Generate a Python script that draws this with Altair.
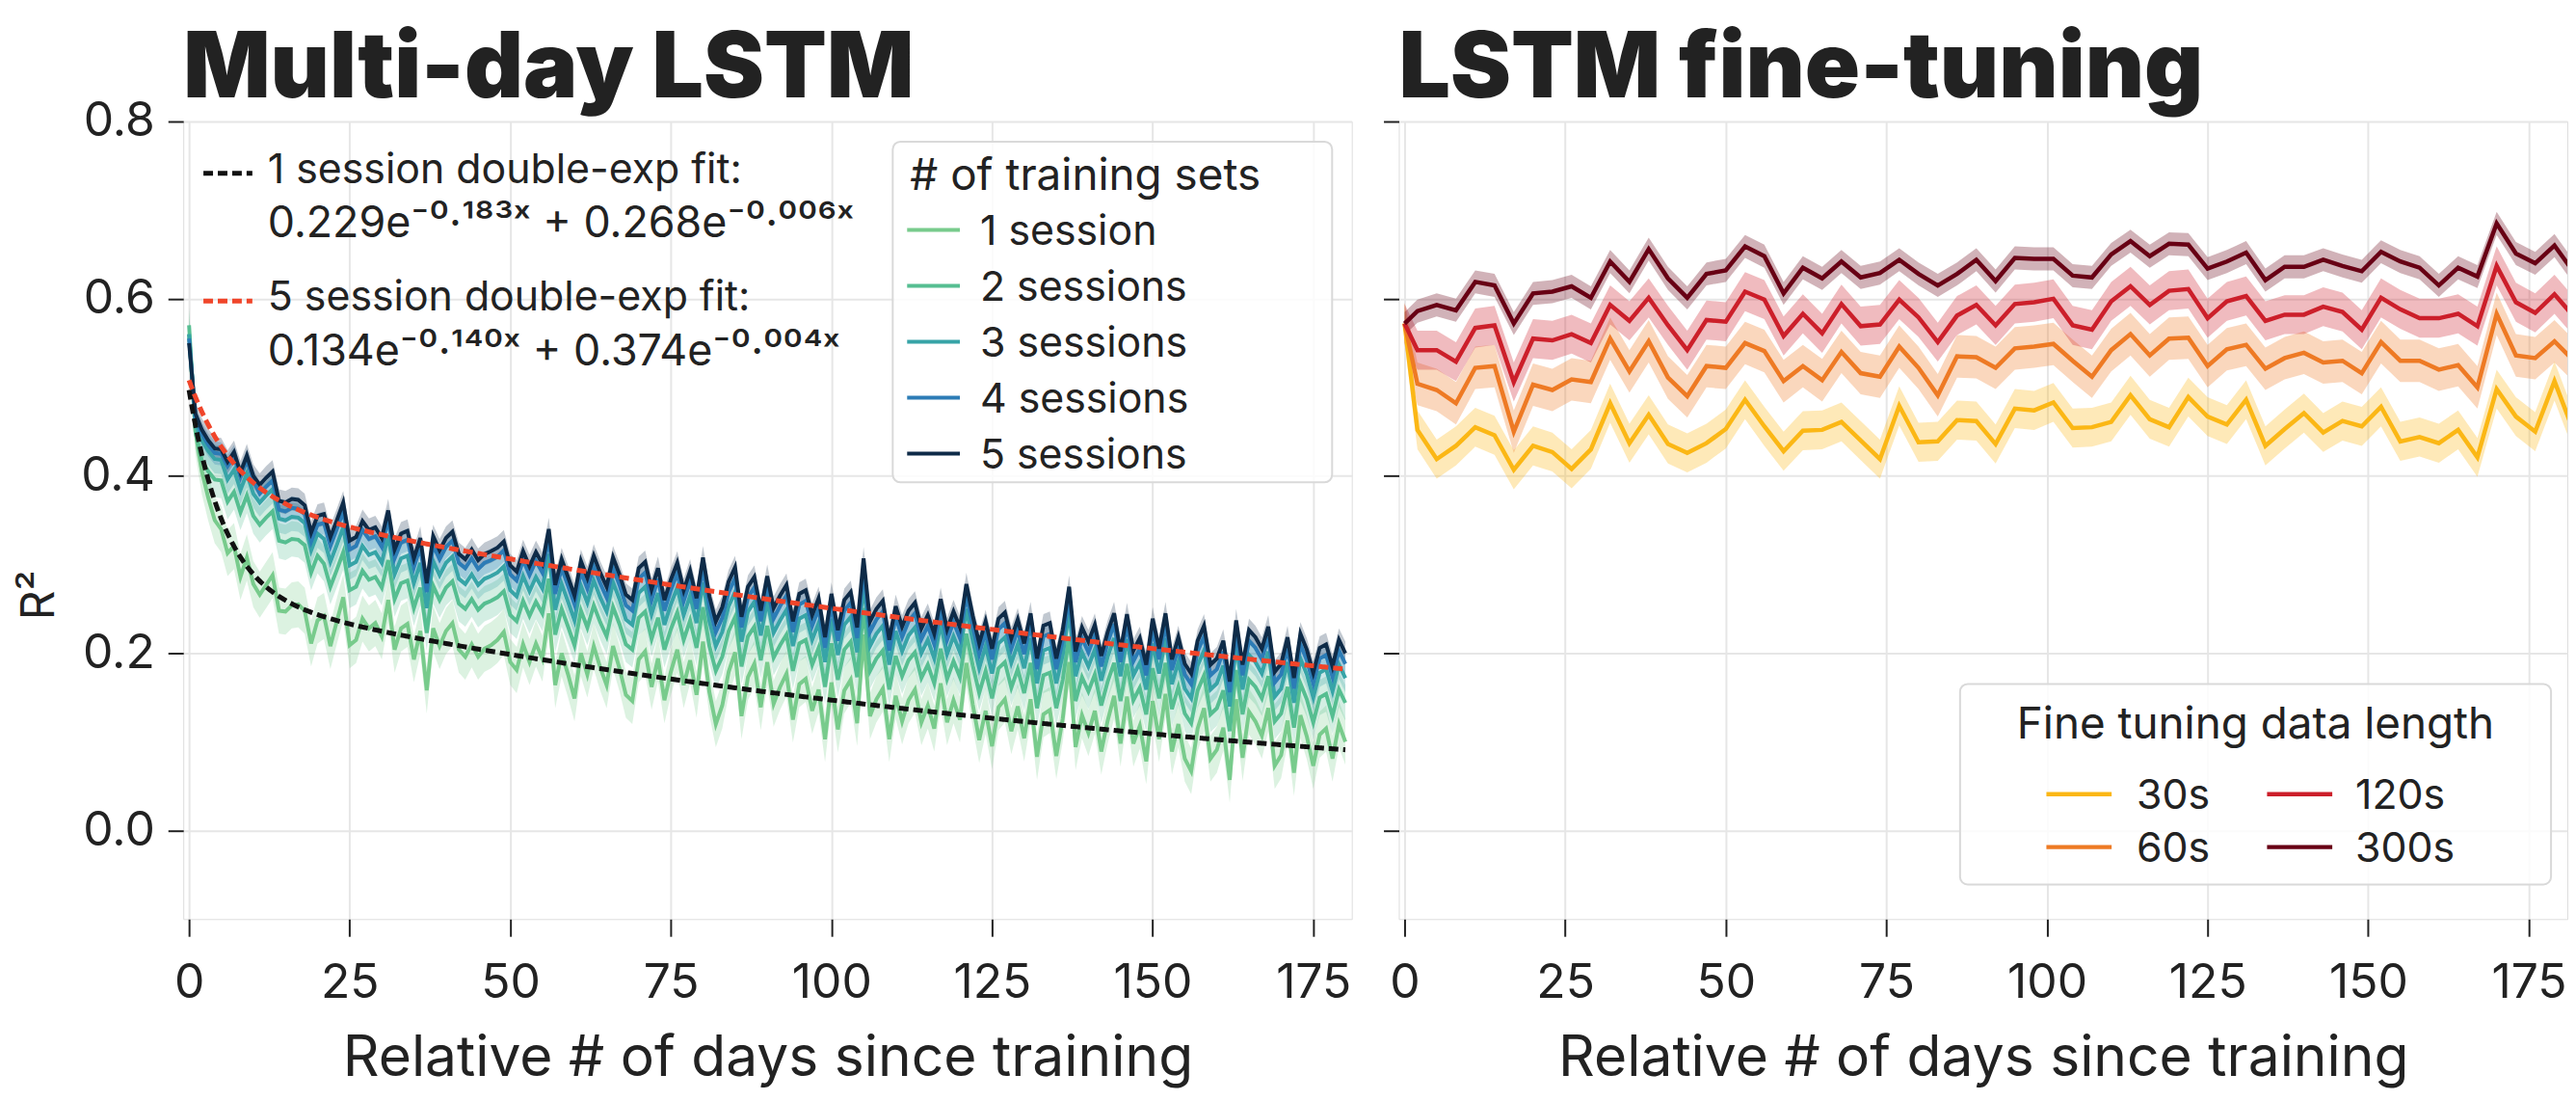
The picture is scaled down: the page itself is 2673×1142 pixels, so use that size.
import altair as alt
import pandas as pd

FONT = "Inter"
INK = "#222222"
GRID = "#e6e6e6"

# ---------------- left panel data: daily R^2 by number of training sessions ----------------
left_days = list(range(0, 181))
left_series = ["1 session", "2 sessions", "3 sessions", "4 sessions", "5 sessions"]
left_colors = ["#78cb8c", "#56be91", "#37a4a7", "#2c7cb6", "#0e2b48"]
left_s1 = [.560,.450,.405,.375,.350,.340,.313,.321,.286,.308,
           .278,.266,.277,.288,.248,.247,.254,.255,.248,.211,
           .237,.242,.208,.236,.263,.209,.215,.239,.228,.234,
           .219,.260,.204,.228,.233,.193,.225,.158,.228,.208,
           .225,.234,.204,.196,.210,.196,.205,.209,.215,.224,
           .190,.181,.210,.190,.211,.194,.245,.164,.200,.176,
           .149,.200,.176,.208,.184,.164,.208,.183,.153,.146,
           .193,.202,.162,.194,.147,.179,.204,.164,.192,.153,
           .213,.156,.120,.141,.179,.201,.129,.173,.188,.139,
           .190,.143,.162,.177,.125,.165,.171,.135,.159,.103,
           .167,.114,.158,.170,.121,.221,.129,.148,.160,.103,
           .152,.123,.147,.159,.122,.141,.115,.166,.122,.147,
           .125,.189,.142,.102,.135,.095,.139,.148,.112,.140,
           .104,.148,.083,.131,.136,.084,.126,.190,.094,.130,
           .110,.135,.089,.124,.152,.098,.151,.098,.118,.078,
           .146,.103,.154,.089,.120,.081,.067,.115,.138,.081,
           .091,.116,.057,.148,.082,.134,.123,.107,.138,.073,
           .085,.124,.065,.130,.106,.073,.108,.115,.081,.120,
           .100]
left_s2 = [.570,.450,.417,.405,.396,.395,.371,.382,.359,.378,
           .355,.345,.353,.360,.327,.325,.329,.328,.322,.291,
           .310,.301,.275,.294,.314,.271,.275,.293,.283,.286,
           .274,.305,.261,.279,.282,.251,.274,.223,.276,.260,
           .274,.281,.256,.250,.261,.249,.256,.259,.263,.270,
           .243,.236,.259,.242,.258,.245,.284,.221,.250,.230,
           .209,.248,.229,.254,.235,.219,.252,.233,.210,.204,
           .240,.247,.216,.240,.204,.227,.246,.215,.237,.206,
           .252,.208,.180,.196,.225,.241,.185,.219,.230,.192,
           .231,.195,.209,.221,.180,.211,.215,.187,.206,.162,
           .211,.170,.204,.213,.173,.251,.180,.194,.203,.159,
           .197,.174,.192,.201,.172,.187,.166,.205,.171,.191,
           .173,.222,.186,.155,.180,.149,.183,.190,.161,.182,
           .155,.189,.138,.175,.178,.138,.170,.219,.146,.173,
           .157,.176,.141,.168,.189,.146,.188,.147,.161,.131,
           .183,.149,.189,.137,.162,.132,.121,.158,.175,.131,
           .138,.158,.112,.181,.131,.170,.162,.149,.174,.123,
           .132,.162,.116,.166,.148,.122,.150,.154,.129,.159,
           .144]
left_s3 = [.560,.458,.440,.428,.419,.418,.396,.407,.384,.403,
           .380,.370,.378,.385,.352,.350,.354,.353,.347,.316,
           .335,.329,.303,.322,.342,.299,.303,.321,.311,.314,
           .302,.333,.289,.307,.310,.279,.302,.251,.304,.288,
           .302,.309,.284,.278,.289,.277,.284,.287,.291,.298,
           .271,.264,.287,.270,.286,.273,.312,.249,.278,.258,
           .237,.276,.257,.282,.263,.247,.280,.261,.238,.232,
           .268,.275,.244,.268,.232,.255,.274,.243,.265,.234,
           .280,.236,.208,.224,.253,.269,.213,.247,.258,.220,
           .259,.223,.237,.249,.208,.239,.243,.215,.234,.190,
           .239,.198,.232,.241,.201,.279,.208,.222,.231,.187,
           .225,.202,.220,.229,.200,.215,.194,.233,.199,.219,
           .201,.250,.214,.183,.208,.177,.211,.218,.189,.210,
           .183,.217,.166,.203,.206,.166,.198,.247,.174,.201,
           .185,.204,.169,.196,.217,.174,.216,.175,.189,.159,
           .211,.177,.217,.165,.190,.160,.149,.186,.203,.159,
           .166,.186,.140,.209,.159,.198,.190,.177,.202,.151,
           .160,.190,.144,.194,.176,.150,.178,.182,.157,.187,
           .172]
left_s4 = [.555,.465,.447,.435,.426,.425,.411,.422,.399,.418,
           .395,.380,.388,.395,.362,.360,.364,.363,.357,.326,
           .345,.347,.321,.340,.360,.317,.321,.339,.329,.332,
           .320,.351,.307,.325,.328,.297,.320,.269,.322,.306,
           .320,.327,.302,.296,.307,.295,.302,.305,.309,.316,
           .289,.282,.305,.288,.304,.291,.330,.267,.296,.276,
           .255,.292,.273,.298,.279,.263,.296,.277,.254,.248,
           .284,.291,.260,.284,.248,.271,.290,.259,.281,.250,
           .296,.252,.224,.240,.269,.285,.229,.263,.274,.236,
           .275,.239,.253,.265,.224,.255,.259,.231,.250,.206,
           .255,.214,.248,.257,.217,.295,.224,.238,.247,.203,
           .241,.218,.236,.245,.216,.231,.210,.249,.215,.235,
           .217,.266,.230,.199,.224,.193,.227,.234,.205,.226,
           .199,.233,.182,.219,.222,.182,.214,.263,.190,.217,
           .201,.220,.185,.212,.233,.190,.232,.191,.205,.175,
           .227,.193,.233,.181,.206,.176,.165,.202,.219,.175,
           .182,.202,.156,.225,.175,.214,.206,.193,.218,.167,
           .176,.206,.160,.210,.192,.166,.194,.198,.173,.203,
           .188]
left_s5 = [.550,.470,.452,.440,.431,.430,.416,.427,.404,.423,
           .400,.390,.398,.405,.372,.370,.374,.373,.367,.336,
           .355,.357,.331,.350,.370,.327,.331,.349,.339,.342,
           .330,.361,.317,.335,.338,.307,.330,.279,.332,.316,
           .330,.337,.312,.306,.317,.305,.312,.315,.319,.326,
           .299,.292,.315,.298,.314,.301,.340,.277,.306,.286,
           .265,.304,.285,.310,.291,.275,.308,.289,.266,.260,
           .296,.303,.272,.296,.260,.283,.302,.271,.293,.262,
           .308,.264,.236,.252,.281,.297,.241,.275,.286,.248,
           .287,.251,.265,.277,.236,.267,.271,.243,.262,.218,
           .267,.226,.260,.269,.229,.307,.236,.250,.259,.215,
           .253,.230,.248,.257,.228,.243,.222,.261,.227,.247,
           .229,.278,.242,.211,.236,.205,.239,.246,.217,.238,
           .211,.245,.194,.231,.234,.194,.226,.275,.202,.229,
           .213,.232,.197,.224,.245,.202,.244,.203,.217,.187,
           .239,.205,.245,.193,.218,.188,.177,.214,.231,.187,
           .194,.214,.168,.237,.187,.226,.218,.205,.230,.179,
           .188,.218,.172,.222,.204,.178,.206,.210,.185,.215,
           .200]
left_hw = [0.026, 0.020, 0.016, 0.013, 0.013]
left_legend_title = "# of training sets"

# double-exponential fits: a*exp(-k1*x) + b*exp(-k2*x)
fit_names = ["1 session double-exp fit:", "5 session double-exp fit:"]
fit_colors = ["#111111", "#f0452a"]
fit_a = [0.229, 0.134]
fit_k1 = [0.183, 0.140]
fit_b = [0.268, 0.374]
fit_k2 = [0.006, 0.004]

# ---------------- right panel data (fine-tuning) ----------------
right_days = [0] + list(range(2, 183, 3))
right_series = ["30s", "60s", "120s", "300s"]
right_colors = ["#fbb715", "#ee7a24", "#cc1f2a", "#680014"]
right_30 = [0.572,0.452,0.419,0.434,0.455,0.446,0.407,0.434,0.427,0.408,0.430,0.482,0.437,0.469,0.436,0.426,0.437,0.453,0.486,0.456,0.428,
            0.451,0.452,0.461,0.440,0.419,0.479,0.438,0.439,0.463,0.462,0.436,0.476,0.474,0.483,0.454,0.455,0.461,0.491,0.464,0.455,
            0.489,0.467,0.458,0.486,0.434,0.453,0.471,0.449,0.462,0.456,0.478,0.439,0.444,0.437,0.452,0.421,0.498,0.467,0.450,0.507,0.450]
right_60 = [0.572,0.504,0.497,0.482,0.522,0.524,0.450,0.503,0.497,0.509,0.506,0.555,0.518,0.552,0.511,0.490,0.524,0.522,0.550,0.541,0.507,
            0.524,0.508,0.540,0.516,0.512,0.546,0.522,0.491,0.535,0.534,0.522,0.544,0.546,0.549,0.530,0.512,0.542,0.560,0.536,0.555,
            0.556,0.524,0.543,0.548,0.521,0.533,0.539,0.528,0.530,0.516,0.551,0.530,0.530,0.520,0.525,0.500,0.583,0.536,0.533,0.552,0.530]
right_120 = [0.572,0.542,0.542,0.529,0.567,0.570,0.506,0.555,0.553,0.560,0.550,0.593,0.575,0.601,0.570,0.542,0.576,0.574,0.608,0.599,0.558,
             0.583,0.561,0.594,0.569,0.571,0.599,0.579,0.551,0.581,0.593,0.570,0.594,0.596,0.600,0.570,0.565,0.597,0.614,0.593,0.609,
             0.611,0.578,0.597,0.603,0.575,0.582,0.582,0.591,0.585,0.565,0.601,0.588,0.578,0.578,0.583,0.569,0.637,0.596,0.584,0.605,0.580]
right_300 = [0.572,0.586,0.593,0.587,0.619,0.615,0.572,0.606,0.608,0.614,0.601,0.642,0.619,0.656,0.623,0.601,0.628,0.632,0.659,0.648,0.606,
             0.635,0.623,0.642,0.624,0.629,0.644,0.628,0.615,0.628,0.644,0.620,0.646,0.645,0.645,0.626,0.624,0.650,0.665,0.648,0.662,
             0.661,0.634,0.642,0.652,0.621,0.636,0.636,0.644,0.637,0.631,0.653,0.642,0.635,0.615,0.635,0.625,0.685,0.651,0.640,0.660,0.630]
right_hw = [0.022, 0.024, 0.022, 0.013]
right_legend_title = "Fine tuning data length"

panel_titles = ["Multi-day LSTM", "LSTM fine-tuning"]
x_title = "Relative # of days since training"
y_title = "R²"
x_ticks = [0, 25, 50, 75, 100, 125, 150, 175]
y_ticks = [0.0, 0.2, 0.4, 0.6, 0.8]


def long_table(days, names, columns, hws):
    rows = []
    for name, col, hw in zip(names, columns, hws):
        for d, v in zip(days, col):
            rows.append({"day": d, "r2": v, "lo": v - hw, "hi": v + hw, "series": name})
    return pd.DataFrame(rows)


left_df = long_table(left_days, left_series, [left_s1, left_s2, left_s3, left_s4, left_s5], left_hw)
right_df = long_table(right_days, right_series, [right_30, right_60, right_120, right_300], right_hw)

W, H = 1218, 831
xs = alt.Scale(domain=[-0.9, 181], nice=False, zero=False)
ys = alt.Scale(domain=[-0.1, 0.8], nice=False, zero=False)

common_axis = dict(labelFont=FONT, titleFont=FONT, labelColor=INK, titleColor=INK,
                   labelFontSize=50, titleFontWeight="normal",
                   tickColor=INK, tickWidth=2, grid=True, gridColor=GRID,
                   gridWidth=2, domain=False)

x_axis = alt.Axis(values=x_ticks, title=x_title, titleFontSize=59, tickSize=18,
                  labelPadding=24, titlePadding=24, labelFlush=False, **common_axis)
y_axis_left = alt.Axis(values=y_ticks, format=".1f", title=y_title, titleFontSize=48, tickSize=16,
                       labelPadding=14, titlePadding=18, titleY=493, **common_axis)
y_axis_right = alt.Axis(values=y_ticks, labels=False, title=None, tickSize=16, **common_axis)

blank = alt.Data(values=[{}])
SUP = str.maketrans("0123456789.-x", "⁰¹²³⁴⁵⁶⁷⁸⁹·⁻ˣ")
TITLE_SIZE = 95
TITLE_Y = -25


def label(text, px, py, size, color=INK, weight="normal", align="left"):
    return alt.Chart(blank).mark_text(text=text, font=FONT, fontSize=size, color=color,
                                      fontWeight=weight, align=align,
                                      baseline="alphabetic").encode(
        x=alt.value(px), y=alt.value(py))


def swatch(px, py, length, col, width=5, dash=None):
    kw = dict(strokeWidth=width, color=col)
    if dash:
        kw["strokeDash"] = dash
    return alt.Chart(blank).mark_rule(**kw).encode(
        x=alt.value(px), x2=alt.value(px + length), y=alt.value(py))


def box(x1, y1, x2, y2):
    return alt.Chart(blank).mark_rect(fill="white", fillOpacity=0.82, stroke="#d9d9d9",
                                      strokeWidth=2, cornerRadius=8).encode(
        x=alt.value(x1), x2=alt.value(x2), y=alt.value(y1), y2=alt.value(y2))


def sup(k):
    return f"-{k:.3f}x".translate(SUP)


# ---------------- left panel ----------------
lc = alt.Scale(domain=left_series, range=left_colors)
left_band = alt.Chart(left_df).mark_area(opacity=0.26).encode(
    x=alt.X("day:Q", scale=xs, axis=x_axis),
    y=alt.Y("lo:Q", scale=ys, axis=y_axis_left),
    y2="hi:Q",
    fill=alt.Fill("series:N", scale=lc, legend=None),
)
left_line = alt.Chart(left_df).mark_line(strokeWidth=4).encode(
    x=alt.X("day:Q", scale=xs),
    y=alt.Y("r2:Q", scale=ys),
    color=alt.Color("series:N", scale=lc, legend=None),
)

fit_layers = []
for a, k1, b, k2, col in zip(fit_a, fit_k1, fit_b, fit_k2, fit_colors):
    fit_layers.append(
        alt.Chart(alt.sequence(0, 180.25, 0.25, as_="day"))
        .transform_calculate(v=f"{a}*exp(-{k1}*datum.day)+{b}*exp(-{k2}*datum.day)")
        .mark_line(strokeDash=[10, 5], strokeWidth=5, color=col)
        .encode(x=alt.X("day:Q", scale=xs), y=alt.Y("v:Q", scale=ys))
    )

annot = [label(panel_titles[0], 0, TITLE_Y, TITLE_SIZE, weight=900)]
for i, (name, col) in enumerate(zip(fit_names, fit_colors)):
    base = 64 + i * 133
    annot.append(swatch(21, base - 10, 51, col, width=5, dash=[10, 5]))
    annot.append(label(name, 88, base, 43))
    eq_text = f"{fit_a[i]:.3f}e{sup(fit_k1[i])} + {fit_b[i]:.3f}e{sup(fit_k2[i])}"
    annot.append(label(eq_text, 88, base + 57, 45))

# legend: # of training sets
annot.append(box(739.5, 21, 1197.5, 376))
annot.append(label(left_legend_title, 757.5, 71, 46))
for i, (name, col) in enumerate(zip(left_series, left_colors)):
    cy = 113 + i * 58.25
    annot.append(swatch(754.5, cy, 55, col, width=4))
    annot.append(label(name, 830.5, cy + 15.5, 43))

left = alt.layer(left_band, left_line, *fit_layers, *annot).properties(width=W, height=H)

# ---------------- right panel ----------------
rc = alt.Scale(domain=right_series, range=right_colors)
right_band = alt.Chart(right_df).mark_area(opacity=0.3, clip=True).encode(
    x=alt.X("day:Q", scale=xs, axis=x_axis),
    y=alt.Y("lo:Q", scale=ys, axis=y_axis_right),
    y2="hi:Q",
    fill=alt.Fill("series:N", scale=rc, legend=None),
)
right_line = alt.Chart(right_df).mark_line(strokeWidth=4.5, clip=True).encode(
    x=alt.X("day:Q", scale=xs),
    y=alt.Y("r2:Q", scale=ys),
    color=alt.Color("series:N", scale=rc, legend=None),
)

rannot = [label(panel_titles[1], 0, TITLE_Y, TITLE_SIZE, weight=900),
          box(585, 586, 1201, 795),
          label(right_legend_title, 893, 643, 46, align="center")]
col_sw = [675, 905]
col_lb = [769, 997]
row_cy = [701, 756]
for i, (name, col) in enumerate(zip(right_series, right_colors)):
    c, r = i // 2, i % 2
    rannot.append(swatch(col_sw[c], row_cy[r], 68, col, width=4.5))
    rannot.append(label(name, col_lb[c], row_cy[r] + 15.5, 43))

right = alt.layer(right_band, right_line, *rannot).properties(width=W, height=H)

chart = alt.hconcat(left, right, spacing=27).resolve_scale(
    color="independent", fill="independent").properties(
    padding={"left": 9, "top": 14, "right": 0, "bottom": 5}
).configure_view(stroke=INK, strokeWidth=3).configure(font=FONT)

chart.save("out.html", embed_options={"renderer": "svg", "actions": False})
